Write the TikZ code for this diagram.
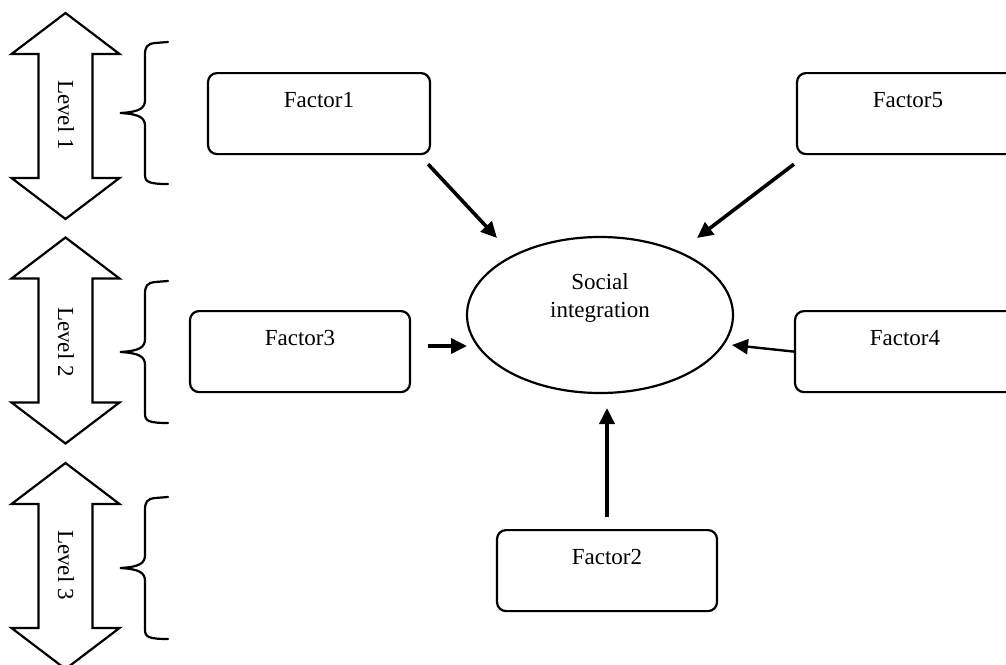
\documentclass[tikz,border=0pt]{standalone}
\usepackage{fontspec}
\setmainfont{Liberation Serif}
\usetikzlibrary{arrows.meta,calc,shapes.geometric}
\begin{document}
\begin{tikzpicture}[x=1pt,y=-1pt,
  txt/.style={font=\fontsize{23}{28}\selectfont},
  box/.style={draw,line width=2.2pt,rounded corners=9pt,minimum width=222pt,
    inner xsep=0pt,inner ysep=0pt,text height=34pt,text depth=47pt,anchor=north,txt},
  lvl/.style={draw,line width=2.2pt,line join=miter},
  brc/.style={draw,line width=2.2pt,line cap=round},
  arr/.style={line width=3.6pt,-{Triangle[length=16pt,width=15pt]}},
  arrthin/.style={line width=2.4pt,-{Triangle[length=16pt,width=15pt]}},
  dblarr/.pic={\draw[lvl] (0,-103) -- (54,-62) -- (27,-62) -- (27,62) -- (54,62) -- (0,103)
      -- (-54,62) -- (-27,62) -- (-27,-62) -- (-54,-62) -- cycle;},
  lbrc/.pic={\draw[brc] (23,-71) -- (10,-70) .. controls (2,-69) and (0,-66) .. (0,-58) -- (0,-13)
      .. controls (0,-5) and (-5,-1) .. (-25,0) .. controls (-5,1) and (0,5) .. (0,13) -- (0,62)
      .. controls (0,69) and (4,71) .. (23,71);}
]
\useasboundingbox (0,0) rectangle (1006,664);
\begin{scope}
\clip (0,0) rectangle (1006,664);
% level arrows
\pic at (65.5,116) {dblarr};
\pic at (65.5,340.5) {dblarr};
\pic at (65.5,566) {dblarr};
\node[txt,rotate=-90] (lvl1) at (66,115) {Level 1};
\node[txt,rotate=-90] (lvl2) at (66,342) {Level 2};
\node[txt,rotate=-90] (lvl3) at (66,565) {Level 3};
% braces
\pic at (145,113) {lbrc};
\pic at (145,352) {lbrc};
\pic at (145,568) {lbrc};
% factor boxes
\node[box] (f1) at (319,72) {Factor1};
\node[box] (f5) at (908,72) {Factor5};
\node[box,minimum width=220pt] (f3) at (300,310) {Factor3};
\node[box,minimum width=220pt] (f4) at (905,310) {Factor4};
\node[box,minimum width=220pt] (f2) at (607,529) {Factor2};
% central ellipse
\node[draw,ellipse,line width=2.2pt,minimum width=266pt,minimum height=156pt,inner sep=0pt] (soc) at (600,315) {};
\node[txt,align=center,inner sep=0pt] (soctxt) at (600,298) {Social\\integration};
% arrow targets
\coordinate (t1) at (497,238);
\coordinate (t5) at (697,238);
\coordinate (t3) at (467,346);
\coordinate (t4) at (732,345);
\coordinate (t2) at (607,408);
% connectors
\draw[arr] ([shift={(-3,9)}]f1.south east) -- (t1);
\draw[arr] ([shift={(-2,9)}]f5.south west) -- (t5);
\draw[arr,shorten <=17pt] (f3.east |- t3) -- (t3);
\draw[arrthin] (f4.west) -- (t4);
\draw[arr,shorten <=12pt] (f2.north) -- (t2);
\end{scope}
\end{tikzpicture}
\end{document}
